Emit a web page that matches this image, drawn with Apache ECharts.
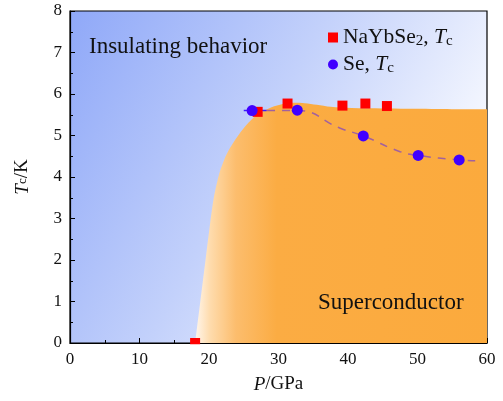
<!DOCTYPE html>
<html>
<head>
<meta charset="utf-8">
<script src="https://cdn.jsdelivr.net/npm/echarts@6/dist/echarts.min.js"></script>
<style>html,body{margin:0;padding:0;background:#fff}#c{width:503px;height:401px}</style>
</head>
<body>
<div id="c"></div>
<script>
// Superconducting phase boundary (P in GPa, Tc in K)
var phaseP = [18.0, 18.75, 19.5, 20.1, 20.5, 20.8, 21.2, 21.6, 22.15, 22.7, 23.4, 24.2, 25.1, 26.2, 27.4, 29.0, 30.6, 32.2, 33.8, 35.5, 37.5, 40.5, 45.0, 52.0, 60.0];
var phaseT = [0.0, 1.0, 2.0, 2.8, 3.3, 3.6, 3.9, 4.15, 4.4, 4.6, 4.8, 5.0, 5.2, 5.4, 5.55, 5.68, 5.76, 5.79, 5.78, 5.74, 5.69, 5.66, 5.65, 5.64, 5.63];
// NaYbSe2 Tc
var naP = [18.0, 27.0, 31.3, 39.2, 42.5, 45.6];
var naT = [0.0, 5.57, 5.77, 5.72, 5.77, 5.71];
// Se Tc
var seP = [26.2, 32.7, 42.2, 50.1, 56.0];
var seT = [5.60, 5.61, 4.99, 4.52, 4.41];
// Se Tc guide line (dashed)
var fitP = [26.2, 32.7, 38.8, 42.2, 47.5, 50.1, 56.0, 58.3];
var fitT = [5.60, 5.60, 5.18, 4.99, 4.61, 4.52, 4.41, 4.39];
// horizontal error bar of first Se point
var errP = [25.0, 28.3];
var errT = [5.60, 5.60];

function zip(a, b) { return a.map(function (v, i) { return [v, b[i]]; }); }

var FONT = 'Liberation Serif';
var chart = echarts.init(document.getElementById('c'), null, {renderer: 'canvas'});
var axisCommon = {
  type: 'value',
  axisLine: {show: true, onZero: false, lineStyle: {color: '#000', width: 1.2}},
  axisTick: {show: true, inside: true, length: 5, lineStyle: {color: '#000', width: 1}},
  minorTick: {show: true, splitNumber: 2, length: 3, lineStyle: {color: '#000', width: 1}},
  splitLine: {show: false},
  axisLabel: {color: '#111', fontFamily: FONT, fontSize: 17, margin: 8}
};
chart.setOption({
  animation: false,
  backgroundColor: '#fff',
  grid: {
    left: 70, right: 16, top: 11, bottom: 58,
    show: true, borderColor: '#000', borderWidth: 1.2,
    backgroundColor: new echarts.graphic.LinearGradient(0, 0, 0.96, 0.66, [
      {offset: 0, color: '#8fa8f8'},
      {offset: 0.5, color: '#c3d1fb'},
      {offset: 1, color: '#ffffff'}
    ])
  },
  xAxis: Object.assign({}, axisCommon, {
    min: 0, max: 60, interval: 10,
    name: '{i|P}/GPa', nameLocation: 'middle', nameGap: 32,
    nameTextStyle: {color: '#111', fontFamily: FONT, fontSize: 19,
      rich: {i: {fontStyle: 'italic', fontFamily: FONT, fontSize: 19}}}
  }),
  yAxis: Object.assign({}, axisCommon, {
    min: 0, max: 8, interval: 1,
    name: '{i|T}{s|c}/K', nameLocation: 'middle', nameGap: 38,
    nameTextStyle: {color: '#111', fontFamily: FONT, fontSize: 19,
      rich: {i: {fontStyle: 'italic', fontFamily: FONT, fontSize: 19},
             s: {fontFamily: FONT, fontSize: 13}}}
  }),
  legend: {
    orient: 'vertical', left: 323, top: 21, itemGap: 4,
    itemWidth: 10, itemHeight: 10,
    data: [{name: 'NaYbSe2', icon: 'rect'}, {name: 'Se', icon: 'circle'}],
    formatter: function (n) {
      return n === 'NaYbSe2' ? '{m|NaYbSe}{s|2}{m|, }{i|T}{s|c}' : '{m|Se, }{i|T}{s|c}';
    },
    textStyle: {
      fontFamily: FONT, fontSize: 21, color: '#111',
      rich: {
        m: {fontFamily: FONT, fontSize: 21.5, verticalAlign: 'top', lineHeight: 23},
        i: {fontFamily: FONT, fontSize: 21.5, fontStyle: 'italic', verticalAlign: 'top', lineHeight: 23},
        s: {fontFamily: FONT, fontSize: 15, verticalAlign: 'bottom', lineHeight: 10}
      }
    }
  },
  graphic: [
    {type: 'text', x: 89, y: 47, z: 100, style: {text: 'Insulating behavior', font: '23px "' + FONT + '"', fill: '#111', align: 'left', verticalAlign: 'middle'}},
    {type: 'text', x: 318, y: 303, z: 100, style: {text: 'Superconductor', font: '23px "' + FONT + '"', fill: '#111', align: 'left', verticalAlign: 'middle'}},
    {type: 'rect', z: 50, shape: {x: 60, y: 344.2, width: 440, height: 8}, style: {fill: '#fff'}}
  ],
  series: [
    {
      type: 'line', name: 'phase', data: zip(phaseP, phaseT), smooth: 0.3,
      symbol: 'none', lineStyle: {width: 0}, z: 1, silent: true,
      areaStyle: {
        opacity: 1,
        color: new echarts.graphic.LinearGradient(0, 0, 1, 0, [
          {offset: 0, color: '#fff6ec'},
          {offset: 0.05, color: '#fedcae'},
          {offset: 0.14, color: '#fcbd6d'},
          {offset: 0.28, color: '#fbac43'},
          {offset: 1, color: '#fbaa3d'}
        ])
      }
    },
    {
      type: 'line', name: 'fit', data: zip(fitP, fitT), smooth: 0.5, symbol: 'none', z: 2,
      lineStyle: {color: '#a2619e', width: 1.5, type: [8, 7]}
    },
    {
      type: 'line', name: 'err', data: zip(errP, errT), symbol: 'none', z: 3,
      lineStyle: {color: '#3b1bff', width: 1.5}
    },
    {
      type: 'scatter', name: 'NaYbSe2', data: zip(naP, naT), symbol: 'rect', symbolSize: 10,
      itemStyle: {color: '#ff0000', opacity: 1}, z: 4
    },
    {
      type: 'scatter', name: 'Se', data: zip(seP, seT), symbol: 'circle', symbolSize: 11,
      itemStyle: {color: '#4000ff', opacity: 1}, z: 5
    }
  ]
});
</script>
</body>
</html>
